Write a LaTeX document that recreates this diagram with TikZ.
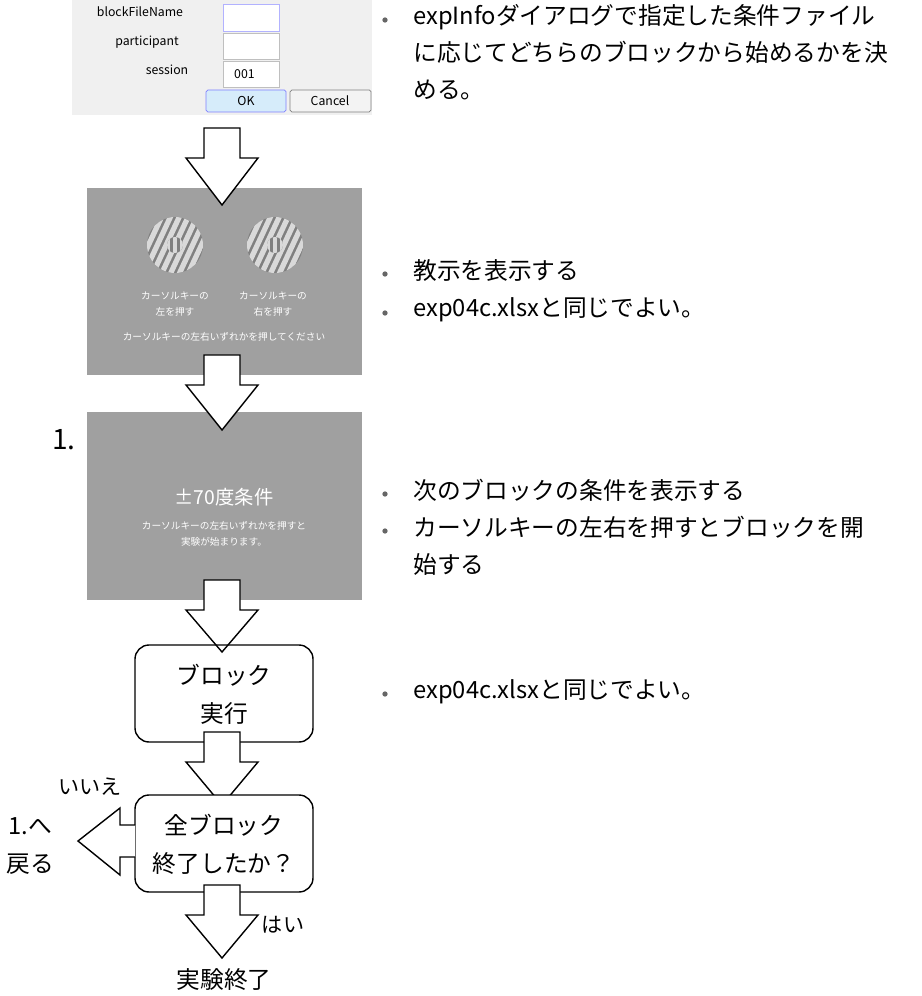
\documentclass[tikz,border=0pt]{standalone}
\usepackage{fontspec}
\setmainfont{Noto Sans CJK JP}
\usetikzlibrary{positioning}
\definecolor{panelgray}{HTML}{A0A0A0}
\definecolor{dlggray}{HTML}{F0F0F0}
\definecolor{okblue}{HTML}{D6ECFA}
\newcommand{\fsz}[2]{\fontsize{#1}{#2}\selectfont}
% block arrow pointing down: x, top, head start, tip
\newcommand{\blockarrow}[4]{%
  \draw[fill=white,line width=0.8pt] (#1-18,#2) -- (#1+18,#2) -- (#1+18,#3) -- (#1+36,#3)
    -- (#1,#4) -- (#1-36,#3) -- (#1-18,#3) -- cycle;}
\newcommand{\grating}[2]{%
  \begin{scope}
    \clip (#1,#2) circle (28);
    \fill[gray] (#1-30,#2-30) rectangle (#1+30,#2+30);
    \foreach \k in {-6,...,6}
      \draw[line width=3pt,gray!30,rotate around={-25:(#1,#2)}] (#1+\k*8,#2-40) -- (#1+\k*8,#2+40);
  \end{scope}
  \begin{scope}
    \clip (#1,#2) circle (8);
    \fill[gray] (#1-9,#2-9) rectangle (#1+9,#2+9);
    \foreach \k in {-1,0,1}
      \draw[line width=2.5pt,gray!30] (#1+\k*7,#2-9) -- (#1+\k*7,#2+9);
  \end{scope}}
\tikzset{
  dlglabel/.style={font=\fsz{7}{8}, anchor=center},
  field/.style={draw=gray!50,fill=white},
  small/.style={font=\fsz{5.5}{9}, text=white, align=center},
  stepbox/.style={draw, rounded corners=8pt, line width=0.8pt},
  bigtext/.style={font=\fsz{13.5}{21.5}, align=center},
  bullet/.style={circle, fill=gray!80!black, inner sep=0pt, minimum size=3pt},
  note/.style={font=\fsz{13.5}{21}, anchor=north west, align=left, inner sep=0pt}
}
\begin{document}
\begin{tikzpicture}[x=0.02cm,y=-0.02cm]
\useasboundingbox (0,0) rectangle (921,996);
% dialog
\fill[dlggray] (72,0) rectangle (372,115);
\node[dlglabel] (lab1) at (140,12) {blockFileName};
\node[dlglabel] (lab2) at (147,42) {participant};
\node[dlglabel] (lab3) at (167,70) {session};
\draw[field,draw=blue!30] (223,4) rectangle (279,31);
\draw[field] (223,33) rectangle (279,59);
\draw[field] (223,61) rectangle (279,87);
\node[dlglabel,anchor=west] (sess) at (228,74) {001};
\draw[fill=okblue,draw=blue!50,rounded corners=1pt] (206,90) rectangle (286,112);
\node[dlglabel] (ok) at (246,101) {OK};
\draw[fill=dlggray!80,draw=gray,rounded corners=1pt] (290,90) rectangle (371,112);
\node[dlglabel] (cancel) at (330,101) {Cancel};
% panels
\fill[panelgray] (87,188) rectangle (362,375);
\fill[panelgray] (87,412) rectangle (362,600);
% arrows
\blockarrow{222}{128}{158}{205}
\grating{175}{245}
\grating{275}{245}
\node[small] (left) at (175,304) {カーソルキーの\\左を押す};
\node[small] (right) at (273,304) {カーソルキーの\\右を押す};
\node[small] (either) at (224,337) {カーソルキーの左右いずれかを押してください};
\blockarrow{222}{355}{385}{430}
\node[font=\fsz{16}{16}] (one) at (64,440) {1.};
\node[font=\fsz{11}{11}, text=white] (cond) at (224,497) {±70度条件};
\node[small] (condsub) at (224,534) {カーソルキーの左右いずれかを押すと\\実験が始まります。};
\blockarrow{222}{580}{610}{652}
\draw[stepbox] (135,645) rectangle (313,742);
\node[bigtext] (run) at (224,694) {ブロック\\実行};
\blockarrow{222}{732}{762}{805}
\draw[stepbox,fill=white] (135,795) rectangle (313,892);
\node[bigtext] (done) at (224,844) {全ブロック\\終了したか？};
% back arrow
\draw[fill=white,line width=0.8pt] (135,825) -- (120,825) -- (120,808) -- (78,841)
  -- (120,875) -- (120,857) -- (135,857);
\node[font=\fsz{12}{12}] (no) at (90,787) {いいえ};
\node[bigtext] (back) at (30,846) {1.へ\\戻る};
\blockarrow{222}{885}{915}{958}
\node[font=\fsz{12}{12}] (yes) at (283,925) {はい};
\node[bigtext] (finish) at (224,980) {実験終了};
% notes
\foreach \y in {20,274,313,494,531,694}
  \node[bullet] at (385,\y) {};
\node[note] (n1) at (413,4) {expInfoダイアログで指定した条件ファイル\\に応じてどちらのブロックから始めるかを決\\める。};
\node[note] (n2) at (413,259) {教示を表示する\\exp04c.xlsxと同じでよい。};
\node[note] (n3) at (413,479) {次のブロックの条件を表示する\\カーソルキーの左右を押すとブロックを開\\始する};
\node[note] (n4) at (413,679) {exp04c.xlsxと同じでよい。};
\end{tikzpicture}
\end{document}
